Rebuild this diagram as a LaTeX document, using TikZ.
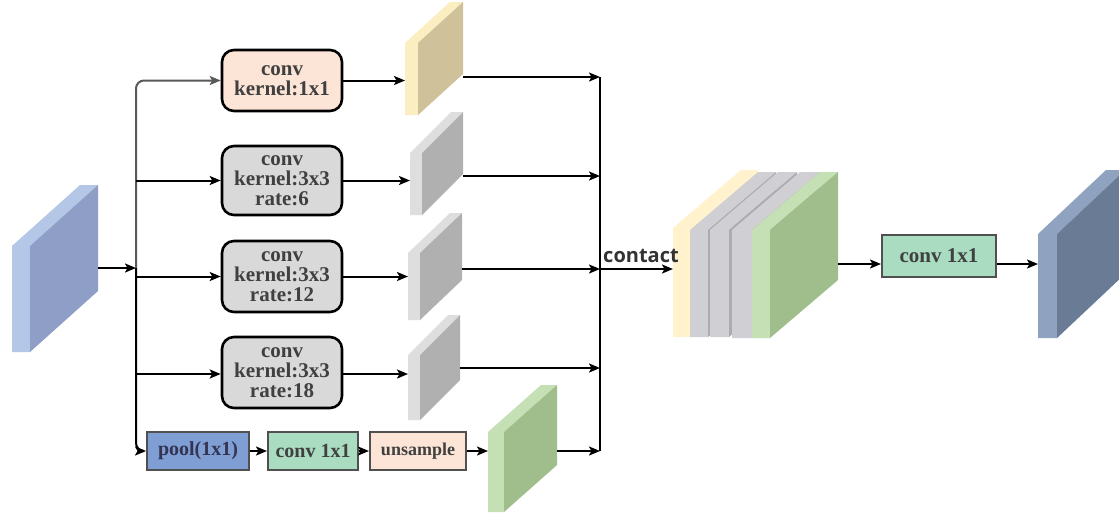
\documentclass[tikz,border=0pt]{standalone}
\usepackage{fontspec}
\setmainfont{Liberation Serif}
\newfontfamily\labelsans{Open Sans}
\usetikzlibrary{arrows.meta}

\definecolor{inLight}{HTML}{B4C7E7}
\definecolor{inDark}{HTML}{8E9EC6}
\definecolor{tanLight}{HTML}{FBEEC1}
\definecolor{tanDark}{HTML}{CFC29A}
\definecolor{grayLight}{HTML}{DEDEDE}
\definecolor{grayDark}{HTML}{B0B0B0}
\definecolor{greenLight}{HTML}{C5E0B4}
\definecolor{greenDark}{HTML}{A0BE8C}
\definecolor{outLight}{HTML}{8FA3C0}
\definecolor{outDark}{HTML}{6A7B96}
\definecolor{stackYellow}{HTML}{FFF2CC}
\definecolor{stackGray}{HTML}{D0D0D4}
\definecolor{stackGrayDark}{HTML}{ACACB0}
\definecolor{peach}{HTML}{FCE4D6}
\definecolor{boxGray}{HTML}{D9D9D9}
\definecolor{poolBlue}{HTML}{7F9FD4}
\definecolor{mint}{HTML}{A9DCC0}
\definecolor{textGray}{HTML}{404040}
\definecolor{edgeGray}{HTML}{505050}

% feature map slab: x0, front width, top, bottom, depth dx, depth dy, light, dark
\newcommand\featslab[8]{%
  \fill[#7] (#1,#4) -- (#1,#3) -- ({#1+#5},{#3+#6}) -- ({#1+#2+#5},{#3+#6})
    -- ({#1+#2},#3) -- ({#1+#2},#4) -- cycle;
  \fill[#8] ({#1+#2},#3) -- ({#1+#2+#5},{#3+#6}) -- ({#1+#2+#5},{#4+#6})
    -- ({#1+#2},#4) -- cycle;
}

\tikzset{
  convbox/.style={draw=black, line width=2.6pt, rounded corners=12pt,
    minimum width=120pt, inner sep=0pt, align=center, text=textGray,
    font=\bfseries\fontsize{21}{20}\selectfont},
  flatbox/.style={draw=edgeGray, line width=2pt, minimum height=38pt,
    inner sep=0pt, text=textGray, font=\bfseries\fontsize{20}{20}\selectfont},
  link/.style={line width=2pt, -{Stealth[length=11pt,width=9pt,inset=2.5pt]}},
  bus/.style={line width=2pt}
}

\begin{document}
\begin{tikzpicture}[x=1pt,y=-1pt]
\useasboundingbox (0,0) rectangle (1119,515);
\clip (0,0) rectangle (1119,515);
\fill[white] (0,0) rectangle (1119,515);

% input feature map
\featslab{12}{18}{246}{352}{68}{-61}{inLight}{inDark}

% branch outputs
\featslab{405}{13}{43}{115}{45}{-41}{tanLight}{tanDark}
\featslab{410}{12}{153}{215}{41}{-41}{grayLight}{grayDark}
\featslab{408}{12}{253}{320}{42}{-40}{grayLight}{grayDark}
\featslab{408}{12}{355}{420}{40}{-40}{grayLight}{grayDark}
\featslab{488}{16}{432}{512}{53}{-47}{greenLight}{greenDark}

% concatenated stack
\featslab{673}{17}{228}{337}{68}{-58}{stackYellow}{stackYellow}
\featslab{690}{18}{230}{337}{68}{-58}{stackGray}{stackGrayDark}
\featslab{710}{19}{230}{337}{68}{-58}{stackGray}{stackGrayDark}
\featslab{732}{20}{230}{338}{68}{-58}{stackGray}{stackGrayDark}
\featslab{752}{18}{230}{338}{68}{-58}{greenLight}{greenDark}

% output feature map
\featslab{1038}{19}{234}{338}{68}{-64}{outLight}{outDark}

% convolution branches
\node[convbox, fill=peach, minimum height=61pt] (b1) at (282,80.5) {conv\\kernel:1x1};
\node[convbox, fill=boxGray, minimum height=69pt] (b2) at (282,180.5) {conv\\kernel:3x3\\rate:6};
\node[convbox, fill=boxGray, minimum height=71pt] (b3) at (282,276.5) {conv\\kernel:3x3\\rate:12};
\node[convbox, fill=boxGray, minimum height=71pt] (b4) at (282,372.5) {conv\\kernel:3x3\\rate:18};

% pooling branch
\node[flatbox, fill=poolBlue, minimum width=102pt, text={black!80!blue!60!gray}] (pool) at (198,451) {pool(1x1)};
\node[flatbox, fill=mint, minimum width=90pt] (cv1) at (313,451) {conv 1x1};
\node[flatbox, fill=peach, minimum width=96pt, font=\bfseries\fontsize{18}{18}\selectfont] (ups) at (418,451) {unsample};

% final projection
\node[flatbox, fill=mint, minimum width=114pt, minimum height=42pt, font=\bfseries\fontsize{21}{20}\selectfont] (cvout) at (939,256) {conv 1x1};

\node[font=\labelsans\bfseries\fontsize{20}{20}\selectfont, text={black!80}, anchor=base, inner sep=0pt] (lbl) at (641,262) {contact};

% attachment points on the feature maps
\coordinate (inout) at (98,268);
\coordinate (split) at (136,268);
\coordinate (s1i) at (405,80.5);
\coordinate (s2i) at (410,180.5);
\coordinate (s3i) at (408,276.5);
\coordinate (s4i) at (408,374);
\coordinate (s5i) at (488,451);
\coordinate (s1o) at (463,77);
\coordinate (s2o) at (463,176);
\coordinate (s3o) at (462,269);
\coordinate (s4o) at (460,368);
\coordinate (s5o) at (557,451);
\coordinate (c1) at (600,77);
\coordinate (c2) at (600,176);
\coordinate (c3) at (600,269);
\coordinate (c4) at (600,368);
\coordinate (c5) at (600,451);
\coordinate (stin) at (673,269);
\coordinate (stout) at (838,264);
\coordinate (outin) at (1038,264);

% input distribution
\draw[link] (inout) -- (split);
\draw[link, draw=black!65, rounded corners=8pt] (split) |- (b1.west);
\draw[link, rounded corners=8pt] (split) |- (pool.west);
\draw[link] (split |- b2.west) -- (b2.west);
\draw[link] (split |- b3.west) -- (b3.west);
\draw[link] (split |- s4i) -- (b4.west |- s4i);

% branch processing
\draw[link] (b1.east) -- (s1i);
\draw[link] (b2.east) -- (s2i);
\draw[link] (b3.east) -- (s3i);
\draw[link] (b4.east |- s4i) -- (s4i);
\draw[link] (pool.east) -- (cv1.west);
\draw[link] (cv1.east) -- (ups.west);
\draw[link] (ups.east) -- (s5i);

% concatenation
\draw[bus] (c1) -- (c5);
\draw[link] (s1o) -- (c1);
\draw[link] (s2o) -- (c2);
\draw[link] (s3o) -- (c3);
\draw[link] (s4o) -- (c4);
\draw[link] (s5o) -- (c5);
\draw[link] (c3) -- (stin);

% projection to output
\draw[link] (stout) -- (stout -| cvout.west);
\draw[link] (cvout.east |- stout) -- (outin);
\end{tikzpicture}
\end{document}
